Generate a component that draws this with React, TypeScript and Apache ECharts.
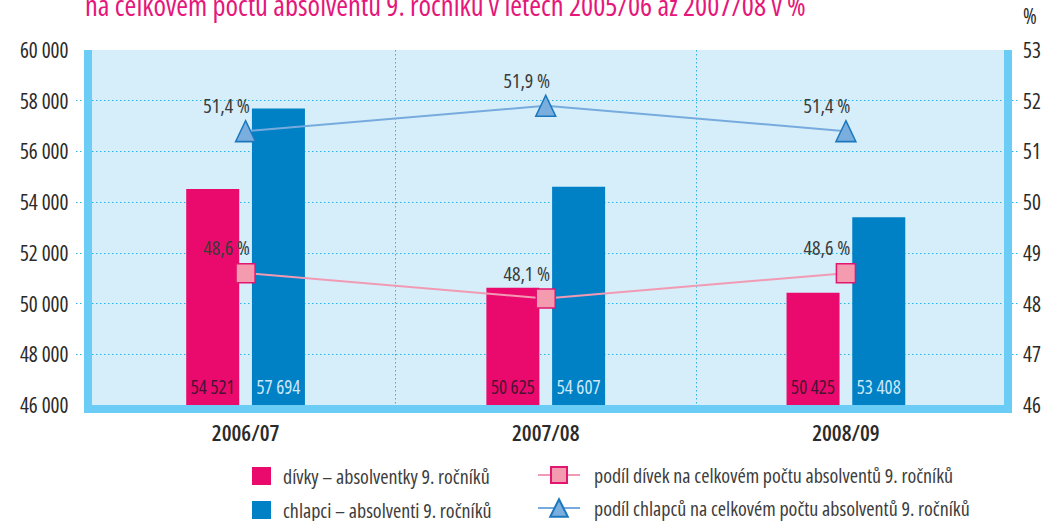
import React, { useEffect, useRef } from "react";
import * as echarts from "echarts";

const categories = ["2006/07", "2007/08", "2008/09"];
const girls = [54521, 50625, 50425];
const boys = [57694, 54607, 53408];
const girlsShare = [48.6, 48.1, 48.6];
const boysShare = [51.4, 51.9, 51.4];

const NAMES = {
  girls: "dívky – absolventky 9. ročníků",
  boys: "chlapci – absolventi 9. ročníků",
  girlsShare: "podíl dívek na celkovém počtu absolventů 9. ročníků",
  boysShare: "podíl chlapců na celkovém počtu absolventů 9. ročníků",
};
const TITLE = "na celkovém počtu absolventů 9. ročníků v letech 2005/06 až 2007/08 v %";

const FONT = "'Open Sans', sans-serif";
const TXT = "#2b2a29";
const GRID_COLOR = "#2bb5e6";
const DOT: [number, number] = [1.5, 2.5];

const fmt = (n: number) => String(n).replace(/\B(?=(\d{3})+(?!\d))/g, " ");
const pct = (n: number) => n.toFixed(1).replace(".", ",") + " %";

const legendBase = (name: string, left: number, top: number, w: number, h: number, pad: number, icon?: string) => ({
  orient: "vertical",
  left,
  top,
  padding: 0,
  itemWidth: w,
  itemHeight: h,
  ...(icon ? { icon } : {}),
  data: [name],
  textStyle: { fontSize: 20, color: "#3d3d3d", fontFamily: FONT, padding: [0, 0, 0, pad] },
});

export default function App() {
  const ref = useRef<HTMLDivElement>(null);
  useEffect(() => {
    if (!ref.current) return;
    const chart = echarts.init(ref.current, null, { renderer: "svg" });
    const W = 1050;
    const L = 92, R = 1004, T = 50, B = 405;
    const AL = 89, AR = 1006;
    chart.setOption({
      animation: false,
      textStyle: { fontFamily: FONT },
      grid: [
        { left: AL, right: W - AR, top: T, bottom: 521 - B, containLabel: false },
        { left: 76, right: W - 1020, top: T, bottom: 521 - B, containLabel: false },
      ],
      graphic: [
        { type: "rect", z: -10, shape: { x: L, y: T, width: R - L, height: B - T }, style: { fill: "#d5eefa" } },
        { type: "rect", z: 10, shape: { x: 84, y: T, width: 8, height: 413 - T }, style: { fill: "#6bcdf5" } },
        { type: "rect", z: 10, shape: { x: R, y: T, width: 8, height: 413 - T }, style: { fill: "#6bcdf5" } },
        { type: "rect", z: 10, shape: { x: 84, y: B, width: 1012 - 84, height: 8 }, style: { fill: "#6bcdf5" } },
        {
          type: "text",
          left: 85,
          top: -10,
          style: { text: TITLE, fill: "#e5177b", fontSize: 28.5, fontFamily: FONT },
        },
        {
          type: "text",
          left: 1023,
          top: 5,
          style: { text: "%", fill: TXT, fontSize: 21, fontFamily: FONT },
        },
      ],
      legend: [
        legendBase(NAMES.girls, 252, 466, 19, 18, 7, "rect"),
        legendBase(NAMES.boys, 252, 500, 19, 18, 7, "rect"),
        legendBase(NAMES.girlsShare, 537, 465, 42, 20, 9),
        legendBase(NAMES.boysShare, 537, 498, 42, 22, 9),
      ],
      xAxis: [
        {
          type: "category",
          gridIndex: 0,
          data: categories,
          axisLine: { show: false },
          axisTick: { show: false },
          axisLabel: { fontSize: 22, color: TXT, fontWeight: 600, margin: 16, fontFamily: FONT },
          splitLine: {
            show: true,
            showMinLine: false,
            showMaxLine: false,
            lineStyle: { color: GRID_COLOR, type: DOT, width: 1 },
          },
        },
        { type: "value", gridIndex: 1, show: false, min: 0, max: 1 },
      ],
      yAxis: [
        {
          type: "value",
          gridIndex: 0,
          min: 46000,
          max: 60000,
          interval: 2000,
          axisLine: { show: false },
          axisTick: { show: false },
          splitLine: { show: false },
          axisLabel: { fontSize: 21, color: TXT, margin: 27, formatter: (v: number) => fmt(v), fontFamily: FONT },
        },
        {
          type: "value",
          gridIndex: 0,
          position: "right",
          min: 46,
          max: 53,
          interval: 1,
          axisLine: { show: false },
          axisTick: { show: false },
          splitLine: { show: false },
          axisLabel: { fontSize: 21, color: TXT, margin: 27, fontFamily: FONT },
        },
        {
          type: "value",
          gridIndex: 1,
          min: 46000,
          max: 60000,
          interval: 2000,
          axisLine: { show: false },
          axisTick: { show: false },
          axisLabel: { show: false },
          splitLine: {
            show: true,
            showMinLine: false,
            showMaxLine: false,
            lineStyle: { color: GRID_COLOR, type: DOT, width: 1 },
          },
        },
      ],
      series: [
        {
          name: NAMES.girls,
          type: "bar",
          xAxisIndex: 0,
          yAxisIndex: 0,
          data: girls,
          barWidth: 53,
          barGap: "24%",
          itemStyle: { color: "#ea0a6e" },
          label: {
            show: true,
            position: "insideBottom",
            distance: 9,
            fontSize: 19,
            color: "#4a1232",
            fontFamily: FONT,
            formatter: (p: any) => fmt(p.value),
          },
        },
        {
          name: NAMES.boys,
          type: "bar",
          xAxisIndex: 0,
          yAxisIndex: 0,
          data: boys,
          barWidth: 53,
          barGap: "24%",
          itemStyle: { color: "#0080c5" },
          label: {
            show: true,
            position: "insideBottom",
            distance: 9,
            fontSize: 19,
            color: "#cbe8f8",
            fontFamily: FONT,
            formatter: (p: any) => fmt(p.value),
          },
        },
        {
          name: NAMES.girlsShare,
          type: "line",
          xAxisIndex: 0,
          yAxisIndex: 1,
          data: girlsShare,
          symbol: "rect",
          symbolSize: 19,
          z: 5,
          lineStyle: { color: "#f29ab4", width: 2 },
          itemStyle: { color: "#f59bb0", borderColor: "#e1166f", borderWidth: 1.5 },
          label: {
            show: true,
            position: "top",
            distance: 5,
            offset: [-19, 0],
            fontSize: 20,
            color: "#3b3b3b",
            fontFamily: FONT,
            formatter: (p: any) => pct(p.value),
          },
        },
        {
          name: NAMES.boysShare,
          type: "line",
          xAxisIndex: 0,
          yAxisIndex: 1,
          data: boysShare,
          symbol: "triangle",
          symbolSize: [20, 21],
          z: 5,
          lineStyle: { color: "#78abdd", width: 2 },
          itemStyle: { color: "#7aaedf", borderColor: "#1b78bd", borderWidth: 1.5 },
          label: {
            show: true,
            position: "top",
            distance: 4,
            offset: [-19, 0],
            fontSize: 20,
            color: "#3b3b3b",
            fontFamily: FONT,
            formatter: (p: any) => pct(p.value),
          },
        },
      ],
    });
    return () => chart.dispose();
  }, []);
  return (
    <>
      <style>{`#root text, #root tspan { font-stretch: 75% !important; }`}</style>
      <div ref={ref} style={{ width: 1050, height: 521, position: "absolute", left: 0, top: 0 }} />
    </>
  );
}
